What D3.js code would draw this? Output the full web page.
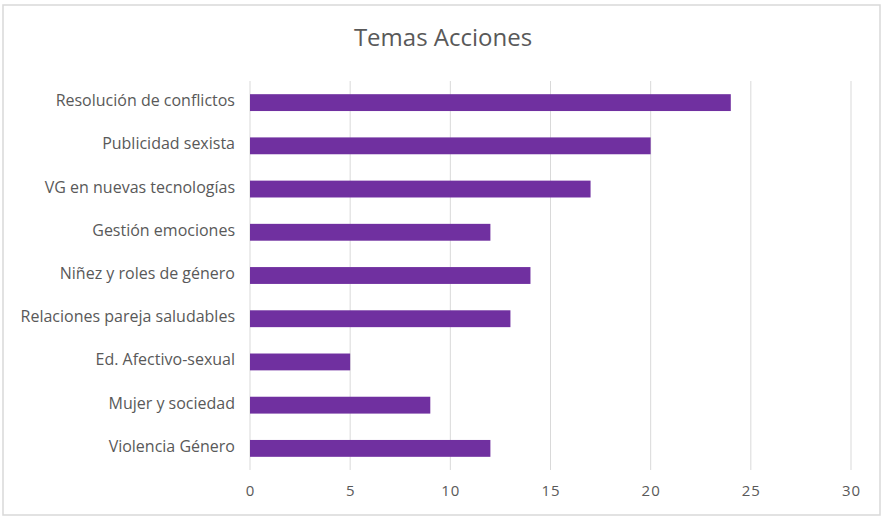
<!DOCTYPE html>
<html>
<head>
<meta charset="utf-8">
<script src="https://cdn.jsdelivr.net/npm/d3@7"></script>
<style>
	body { margin: 0; background: #fff; }
	text { font-family: "Open Sans", "Noto Sans", sans-serif; }
</style>
</head>
<body>
<div id="chart"></div>
<script>
var width = 884,
	height = 518;

// data
var temas = ["Resolución de conflictos", "Publicidad sexista", "VG en nuevas tecnologías",
	"Gestión emociones", "Niñez y roles de género", "Relaciones pareja saludables",
	"Ed. Afectivo-sexual", "Mujer y sociedad", "Violencia Género"];
var acciones = [24, 20, 17, 12, 14, 13, 5, 9, 12];
var ticks = [0, 5, 10, 15, 20, 25, 30];

var margin = {top: 81, right: 33, bottom: 48, left: 250};

var svg = d3.select("#chart")
	.append("svg")
	.attr("width", width)
	.attr("height", height);

// outer border
svg.append("rect")
	.attr("x", 3)
	.attr("y", 5)
	.attr("width", 877)
	.attr("height", 510)
	.attr("fill", "#fff")
	.attr("stroke", "#d9d9d9")
	.attr("stroke-width", 1.5);

var x = d3.scaleLinear()
	.domain([0, 30])
	.range([margin.left, width - margin.right]);

var y = d3.scaleBand()
	.domain(temas)
	.range([margin.top, height - margin.bottom])
	.paddingInner(0.61)
	.paddingOuter(0.305);

// gridlines
svg.append("g")
	.selectAll("line")
	.data(ticks)
	.enter()
	.append("line")
	.attr("x1", function(d){ return x(d); })
	.attr("x2", function(d){ return x(d); })
	.attr("y1", margin.top)
	.attr("y2", height - margin.bottom)
	.attr("stroke", "#d9d9d9")
	.attr("stroke-width", 1);

// bars
svg.append("g")
	.selectAll("rect")
	.data(acciones)
	.enter()
	.append("rect")
	.attr("x", x(0))
	.attr("y", function(d, i){ return y(temas[i]); })
	.attr("width", function(d){ return x(d) - x(0); })
	.attr("height", y.bandwidth())
	.attr("fill", "#7030a0");

// x axis labels
var xAxis = svg.append("g")
	.attr("transform", "translate(0," + (height - margin.bottom) + ")")
	.call(d3.axisBottom(x).tickValues(ticks).tickSize(0).tickPadding(15));
xAxis.select(".domain").remove();
xAxis.selectAll("text")
	.attr("fill", "#595959")
	.style("font-size", "15px")
	.style("letter-spacing", "1px");

// y axis labels
var yAxis = svg.append("g")
	.attr("transform", "translate(" + margin.left + ",0)")
	.call(d3.axisLeft(y).tickSize(0).tickPadding(15));
yAxis.select(".domain").remove();
yAxis.selectAll("text")
	.attr("fill", "#595959")
	.attr("dy", "0.22em")
	.style("font-size", "16px");

// title
svg.append("text")
	.attr("x", 443)
	.attr("y", 46)
	.attr("text-anchor", "middle")
	.attr("fill", "#595959")
	.style("font-size", "24px")
	.text("Temas Acciones");
</script>
</body>
</html>
